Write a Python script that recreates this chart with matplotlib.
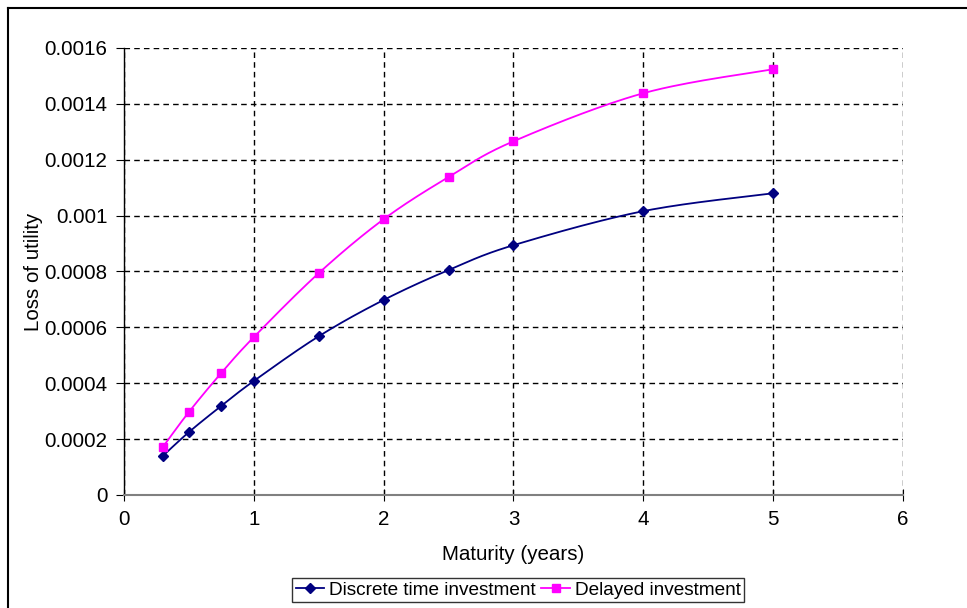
import numpy as np
import matplotlib
matplotlib.use("Agg")
import matplotlib.pyplot as plt
from matplotlib.lines import Line2D

plt.rcParams['font.family'] = ['Liberation Sans', 'DejaVu Sans']

maturity = [0.3, 0.5, 0.75, 1, 1.5, 2, 2.5, 3, 4, 5]
discrete = [0.00014, 0.000225, 0.000319, 0.000408, 0.000568, 0.000698,
            0.000805, 0.000894, 0.001016, 0.00108]
delayed = [0.000172, 0.000297, 0.000437, 0.000565, 0.000794, 0.000987,
           0.001138, 0.001266, 0.001438, 0.001524]

yticks = [0, 0.0002, 0.0004, 0.0006, 0.0008, 0.001, 0.0012, 0.0014, 0.0016]
ytick_labels = ["0", "0.0002", "0.0004", "0.0006", "0.0008", "0.001",
                "0.0012", "0.0014", "0.0016"]
xticks = [0, 1, 2, 3, 4, 5, 6]


def smooth(x, y, n=30):
    # Excel-like smoothed line: cubic Bezier through points (Catmull-Rom style)
    x = np.asarray(x, float)
    y = np.asarray(y, float)
    px = np.concatenate([[x[0]], x, [x[-1]]])
    py = np.concatenate([[y[0]], y, [y[-1]]])
    t = np.linspace(0, 1, n)
    xs, ys = [], []
    for i in range(1, len(px) - 2):
        p0 = np.array([px[i], py[i]])
        p3 = np.array([px[i + 1], py[i + 1]])
        p1 = p0 + (np.array([px[i + 1], py[i + 1]]) - np.array([px[i - 1], py[i - 1]])) / 6
        p2 = p3 - (np.array([px[i + 2], py[i + 2]]) - np.array([px[i], py[i]])) / 6
        b = ((1 - t) ** 3)[:, None] * p0 + (3 * (1 - t) ** 2 * t)[:, None] * p1 \
            + (3 * (1 - t) * t ** 2)[:, None] * p2 + (t ** 3)[:, None] * p3
        xs.extend(b[:, 0])
        ys.extend(b[:, 1])
    return xs, ys


fig = plt.figure(figsize=(9.67, 6.08), dpi=100)
ax = fig.add_axes([0.1282, 0.1859, 0.8056, 0.7352])

navy = "#000080"
magenta = "#FF00FF"

sx, sy = smooth(maturity, discrete)
ax.plot(sx, sy, color=navy, lw=1.3, zorder=3)
ax.plot(maturity, discrete, ls="none", marker="D", ms=5.5, color=navy, zorder=4)

sx, sy = smooth(maturity, delayed)
ax.plot(sx, sy, color=magenta, lw=1.3, zorder=3)
ax.plot(maturity, delayed, ls="none", marker="s", ms=6, color=magenta, zorder=4)

ax.set_xlim(0, 6)
ax.set_ylim(0, 0.0016)
ax.set_xticks(xticks)
ax.set_yticks(yticks)
ax.set_yticklabels(ytick_labels)
ax.grid(True, color="black", ls=(0, (4, 3)), lw=1)
ax.set_axisbelow(True)

for s in ["top", "right"]:
    ax.spines[s].set_visible(False)
ax.spines["left"].set_color("black")
ax.spines["bottom"].set_color("#808080")
ax.spines["left"].set_linewidth(1)
ax.spines["bottom"].set_linewidth(1.5)
ax.tick_params(axis="y", direction="out", length=6, labelsize=14.8, pad=6)
ax.tick_params(axis="x", direction="inout", length=9, labelsize=14.8, pad=6)

ax.set_xlabel("Maturity (years)", fontsize=14.8, labelpad=12)
ax.set_ylabel("Loss of utility", fontsize=14.8, labelpad=1)

handles = [
    Line2D([], [], color=navy, lw=1.3, marker="D", ms=5),
    Line2D([], [], color=magenta, lw=1.3, marker="s", ms=5.5),
]
leg = fig.legend(handles, ["Discrete time investment", "Delayed investment"],
                 loc="center", bbox_to_anchor=(0.5357, 0.0296), ncol=2,
                 fontsize=13.7, frameon=True, fancybox=False, handlelength=1.5,
                 handletextpad=0.25, columnspacing=0.3, borderpad=0.2,
                 borderaxespad=0)
leg.get_frame().set_edgecolor("black")
leg.get_frame().set_linewidth(1)

# chart area border (left and top visible)
fig.add_artist(Line2D([8 / 967, 8 / 967], [0, 1 - 8 / 608], color="black", lw=1.5,
                      transform=fig.transFigure))
fig.add_artist(Line2D([8 / 967, 1], [1 - 8 / 608, 1 - 8 / 608], color="black", lw=1.5,
                      transform=fig.transFigure))

fig.savefig("out.png", dpi=100)
